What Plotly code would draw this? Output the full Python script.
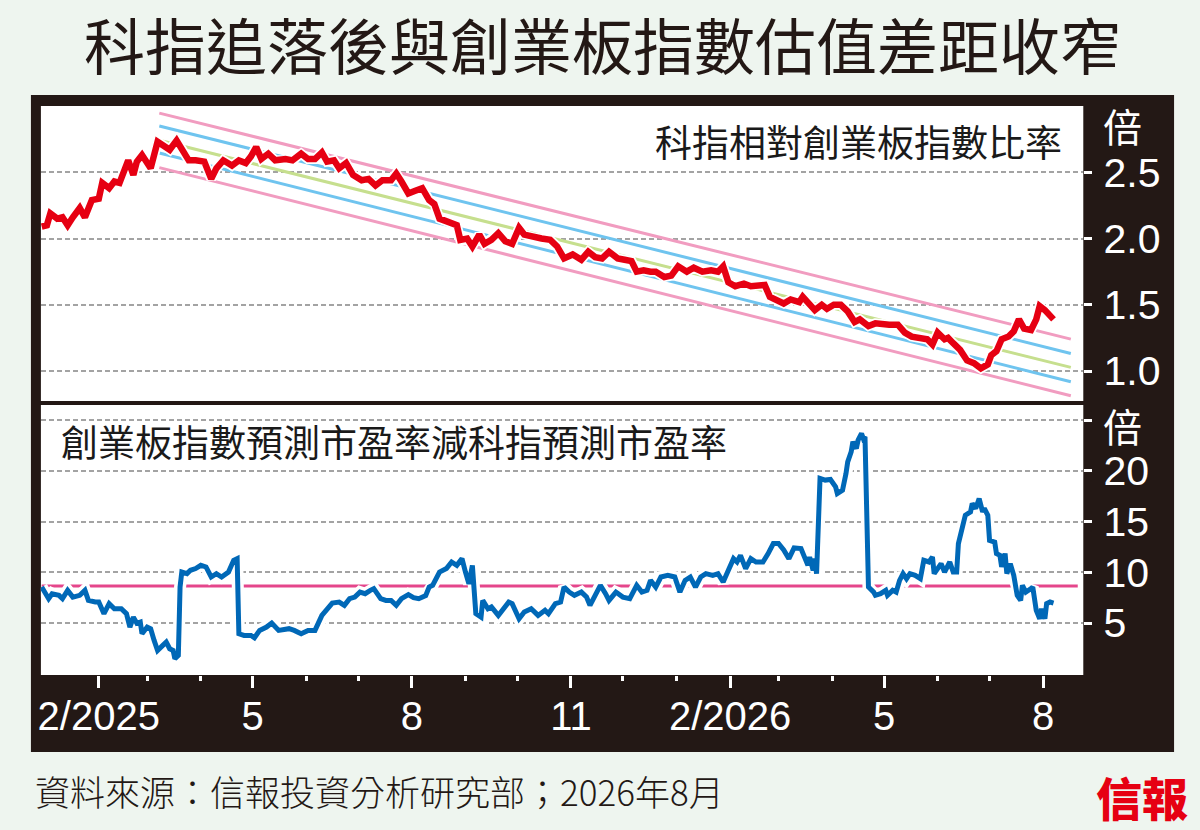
import plotly.graph_objects as go

# ---------------- data ----------------
ratio_dates = [
    "2024-12-30", "2025-01-02", "2025-01-04", "2025-01-08", "2025-01-11", "2025-01-14", "2025-01-17",
    "2025-01-21", "2025-01-24", "2025-01-28", "2025-02-01", "2025-02-03", "2025-02-07", "2025-02-10",
    "2025-02-13", "2025-02-15", "2025-02-18", "2025-02-21", "2025-02-23", "2025-02-26", "2025-03-03",
    "2025-03-07", "2025-03-10", "2025-03-14", "2025-03-18", "2025-03-22", "2025-03-25", "2025-03-29",
    "2025-04-03", "2025-04-07", "2025-04-10", "2025-04-14", "2025-04-19", "2025-04-23", "2025-04-27",
    "2025-04-30", "2025-05-03", "2025-05-06", "2025-05-10", "2025-05-14", "2025-05-20", "2025-05-24",
    "2025-05-29", "2025-06-02", "2025-06-06", "2025-06-10", "2025-06-13", "2025-06-17", "2025-06-20",
    "2025-06-24", "2025-06-28", "2025-07-03", "2025-07-07", "2025-07-11", "2025-07-15", "2025-07-20",
    "2025-07-23", "2025-07-26", "2025-07-30", "2025-08-03", "2025-08-07", "2025-08-11", "2025-08-14",
    "2025-08-17", "2025-08-22", "2025-08-27", "2025-08-29", "2025-09-02", "2025-09-05", "2025-09-09",
    "2025-09-12", "2025-09-16", "2025-09-20", "2025-09-24", "2025-09-28", "2025-10-02", "2025-10-05",
    "2025-10-10", "2025-10-15", "2025-10-20", "2025-10-24", "2025-10-28", "2025-11-02", "2025-11-07",
    "2025-11-11", "2025-11-15", "2025-11-19", "2025-11-23", "2025-11-28", "2025-12-02", "2025-12-06",
    "2025-12-09", "2025-12-13", "2025-12-17", "2025-12-20", "2025-12-25", "2025-12-29", "2026-01-02",
    "2026-01-07", "2026-01-11", "2026-01-16", "2026-01-21", "2026-01-25", "2026-01-28", "2026-01-31",
    "2026-02-04", "2026-02-09", "2026-02-13", "2026-02-18", "2026-02-21", "2026-02-24", "2026-02-28",
    "2026-03-04", "2026-03-08", "2026-03-13", "2026-03-15", "2026-03-18", "2026-03-22", "2026-03-26",
    "2026-03-29", "2026-04-02", "2026-04-06", "2026-04-10", "2026-04-14", "2026-04-17", "2026-04-22",
    "2026-04-26", "2026-04-30", "2026-05-04", "2026-05-09", "2026-05-13", "2026-05-17", "2026-05-21",
    "2026-05-26", "2026-05-29", "2026-06-01", "2026-06-05", "2026-06-07", "2026-06-10", "2026-06-14",
    "2026-06-18", "2026-06-22", "2026-06-26", "2026-06-30", "2026-07-02", "2026-07-05", "2026-07-08",
    "2026-07-12", "2026-07-15", "2026-07-18", "2026-07-21", "2026-07-25", "2026-07-28", "2026-07-30",
    "2026-08-02", "2026-08-05", "2026-08-07",
]
ratio_vals = [
    2.09, 2.10, 2.19, 2.15, 2.16, 2.10, 2.16,
    2.23, 2.16, 2.29, 2.30, 2.42, 2.38, 2.43,
    2.42, 2.50, 2.59, 2.48, 2.58, 2.63, 2.53,
    2.73, 2.70, 2.67, 2.74, 2.65, 2.59, 2.59,
    2.58, 2.45, 2.53, 2.59, 2.55, 2.59, 2.57,
    2.62, 2.69, 2.60, 2.64, 2.59, 2.60, 2.59,
    2.64, 2.60, 2.60, 2.65, 2.58, 2.59, 2.53,
    2.57, 2.48, 2.44, 2.45, 2.40, 2.44, 2.44,
    2.49, 2.43, 2.34, 2.36, 2.38, 2.29, 2.26,
    2.15, 2.13, 2.10, 1.99, 2.00, 1.94, 2.03,
    1.96, 1.99, 2.04, 1.98, 1.96, 2.08, 2.03,
    2.01, 2.00, 1.99, 1.94, 1.85, 1.88, 1.84,
    1.90, 1.86, 1.85, 1.90, 1.85, 1.84, 1.83,
    1.75, 1.76, 1.75, 1.75, 1.71, 1.72, 1.79,
    1.75, 1.78, 1.75, 1.76, 1.75, 1.79, 1.67,
    1.64, 1.66, 1.64, 1.64, 1.65, 1.56, 1.54,
    1.51, 1.54, 1.52, 1.56, 1.52, 1.46, 1.50,
    1.47, 1.50, 1.50, 1.45, 1.37, 1.39, 1.34,
    1.36, 1.35, 1.35, 1.35, 1.29, 1.26, 1.25,
    1.24, 1.20, 1.29, 1.24, 1.25, 1.21, 1.16,
    1.08, 1.06, 1.02, 1.05, 1.12, 1.15, 1.24,
    1.26, 1.30, 1.39, 1.32, 1.31, 1.39, 1.49,
    1.46, 1.41, 1.39,
]

# trend channel (start / end values of each line)
channel_dates = ["2025-03-08", "2026-08-17"]
channel_outer_hi = [2.946, 1.241]
channel_inner_hi = [2.849, 1.133]
channel_mid = [2.741, 1.028]
channel_inner_lo = [2.645, 0.919]
channel_outer_lo = [2.535, 0.814]

pe_dates = [
    "2024-12-30", "2025-01-03", "2025-01-05", "2025-01-09", "2025-01-11", "2025-01-14", "2025-01-17",
    "2025-01-21", "2025-01-24", "2025-01-26", "2025-01-30", "2025-02-01", "2025-02-04", "2025-02-07",
    "2025-02-10", "2025-02-14", "2025-02-17", "2025-02-19", "2025-02-21", "2025-02-23", "2025-02-25",
    "2025-02-26", "2025-03-01", "2025-03-03", "2025-03-05", "2025-03-07", "2025-03-10", "2025-03-12",
    "2025-03-14", "2025-03-16", "2025-03-17", "2025-03-19", "2025-03-20", "2025-03-21", "2025-03-24",
    "2025-03-26", "2025-03-29", "2025-04-01", "2025-04-04", "2025-04-07", "2025-04-10", "2025-04-13",
    "2025-04-17", "2025-04-20", "2025-04-22", "2025-04-23", "2025-04-26", "2025-04-30", "2025-05-02",
    "2025-05-05", "2025-05-09", "2025-05-12", "2025-05-16", "2025-05-22", "2025-05-25", "2025-05-29",
    "2025-06-02", "2025-06-06", "2025-06-10", "2025-06-13", "2025-06-16", "2025-06-20", "2025-06-23",
    "2025-06-26", "2025-06-29", "2025-07-02", "2025-07-05", "2025-07-08", "2025-07-10", "2025-07-14",
    "2025-07-17", "2025-07-20", "2025-07-23", "2025-07-26", "2025-07-30", "2025-08-02", "2025-08-05",
    "2025-08-09", "2025-08-11", "2025-08-13", "2025-08-17", "2025-08-21", "2025-08-24", "2025-08-27",
    "2025-08-30", "2025-09-01", "2025-09-03", "2025-09-05", "2025-09-07", "2025-09-10", "2025-09-11",
    "2025-09-14", "2025-09-16", "2025-09-20", "2025-09-23", "2025-09-26", "2025-09-28", "2025-10-02",
    "2025-10-05", "2025-10-09", "2025-10-13", "2025-10-17", "2025-10-19", "2025-10-23", "2025-10-26",
    "2025-10-28", "2025-10-31", "2025-11-03", "2025-11-07", "2025-11-10", "2025-11-12", "2025-11-14",
    "2025-11-18", "2025-11-21", "2025-11-23", "2025-11-27", "2025-12-01", "2025-12-05", "2025-12-09",
    "2025-12-12", "2025-12-15", "2025-12-17", "2025-12-20", "2025-12-23", "2025-12-27", "2025-12-31",
    "2026-01-03", "2026-01-06", "2026-01-09", "2026-01-12", "2026-01-15", "2026-01-18", "2026-01-22",
    "2026-01-25", "2026-01-28", "2026-01-31", "2026-02-03", "2026-02-05", "2026-02-07", "2026-02-10",
    "2026-02-13", "2026-02-16", "2026-02-20", "2026-02-23", "2026-02-26", "2026-03-01", "2026-03-04",
    "2026-03-07", "2026-03-10", "2026-03-14", "2026-03-16", "2026-03-18", "2026-03-19", "2026-03-21",
    "2026-03-22", "2026-03-23", "2026-03-25", "2026-03-28", "2026-03-31", "2026-04-03", "2026-04-04",
    "2026-04-07", "2026-04-09", "2026-04-10", "2026-04-12", "2026-04-13", "2026-04-15", "2026-04-16",
    "2026-04-18", "2026-04-19", "2026-04-20", "2026-04-22", "2026-04-25", "2026-04-26", "2026-04-29",
    "2026-05-02", "2026-05-03", "2026-05-06", "2026-05-08", "2026-05-10", "2026-05-12", "2026-05-14",
    "2026-05-16", "2026-05-19", "2026-05-22", "2026-05-24", "2026-05-27", "2026-05-29", "2026-05-30",
    "2026-06-03", "2026-06-05", "2026-06-08", "2026-06-10", "2026-06-12", "2026-06-13", "2026-06-15",
    "2026-06-17", "2026-06-20", "2026-06-21", "2026-06-23", "2026-06-25", "2026-06-27", "2026-06-28",
    "2026-06-30", "2026-07-01", "2026-07-04", "2026-07-05", "2026-07-07", "2026-07-08", "2026-07-10",
    "2026-07-11", "2026-07-13", "2026-07-15", "2026-07-17", "2026-07-19", "2026-07-20", "2026-07-22",
    "2026-07-25", "2026-07-26", "2026-07-28", "2026-07-30", "2026-07-31", "2026-08-02", "2026-08-03",
    "2026-08-05", "2026-08-07",
]
pe_vals = [
    8.55, 7.40, 7.89, 7.73, 7.40, 8.22, 7.56,
    7.73, 8.22, 7.23, 7.07, 7.07, 5.92, 6.91,
    6.41, 6.41, 5.92, 4.60, 5.58, 4.97, 5.09,
    3.94, 4.60, 4.44, 3.28, 2.29, 2.79, 3.11,
    2.46, 2.29, 1.47, 1.80, 8.55, 10.03, 9.87,
    10.20, 10.37, 10.69, 10.53, 9.54, 9.87, 9.54,
    10.03, 11.19, 11.35, 3.94, 3.77, 3.77, 3.54,
    4.27, 4.60, 5.00, 4.27, 4.44, 4.27, 3.94,
    4.27, 4.27, 5.75, 6.41, 6.97, 7.07, 6.74,
    7.40, 7.56, 8.05, 7.89, 8.22, 8.39, 7.40,
    7.23, 7.23, 6.74, 7.40, 7.80, 7.50, 7.40,
    7.70, 8.55, 8.72, 10.03, 10.37, 11.02, 10.69,
    11.35, 10.03, 8.88, 10.69, 5.92, 5.58, 7.23,
    6.41, 6.58, 5.75, 6.41, 7.07, 6.91, 5.42,
    6.08, 6.41, 5.75, 6.25, 5.92, 6.91, 7.07,
    8.55, 8.05, 7.73, 8.05, 7.56, 6.74, 7.40,
    8.72, 7.89, 7.23, 8.05, 7.56, 7.40, 8.72,
    8.05, 8.22, 9.21, 8.55, 9.54, 9.70, 9.54,
    8.05, 9.21, 9.54, 8.55, 9.54, 9.87, 9.70,
    9.87, 9.04, 10.20, 11.35, 11.02, 11.68, 10.37,
    11.35, 11.02, 11.02, 11.85, 12.84, 12.84, 12.20,
    11.35, 12.40, 12.34, 11.51, 10.69, 11.51, 10.20,
    11.35, 9.87, 19.26, 19.10, 19.16, 18.43, 17.78,
    18.10, 19.75, 20.90, 21.89, 22.88, 22.22, 23.04,
    23.70, 23.21, 23.37, 8.55, 8.05, 7.73, 7.89,
    8.22, 7.73, 8.22, 8.05, 9.21, 9.87, 9.37,
    9.87, 9.70, 9.37, 11.19, 11.02, 11.51, 9.87,
    10.86, 10.03, 11.02, 10.03, 10.03, 12.84, 14.32,
    15.63, 15.96, 16.79, 16.30, 17.28, 15.96, 16.30,
    15.63, 13.16, 12.99, 11.85, 11.68, 10.53, 11.85,
    9.87, 10.86, 9.70, 7.73, 7.23, 8.72, 8.05,
    8.39, 8.55, 6.25, 5.42, 6.41, 5.42, 6.91,
    7.07, 6.97,
]

avg_dates = ["2024-12-30", "2026-08-21"]
avg_vals = [8.65, 8.65]

x_tick_dates = ["2025-02-01", "2025-05-01", "2025-08-01", "2025-11-01",
                "2026-02-01", "2026-05-01", "2026-08-01"]
x_tick_text = ["2/2025", "5", "8", "11", "2/2026", "5", "8"]
x_minor_dates = ["2025-03-01", "2025-04-01", "2025-06-01", "2025-07-01", "2025-09-01",
                 "2025-10-01", "2025-12-01", "2026-01-01", "2026-03-01", "2026-04-01",
                 "2026-06-01", "2026-07-01"]
y1_ticks = [1.0, 1.5, 2.0, 2.5]
y1_text = ["1.0", "1.5", "2.0", "2.5"]
y2_ticks = [5, 10, 15, 20, 25]
y2_text = ["5", "10", "15", "20", ""]

title_text = "科指追落後與創業板指數估值差距收窄"
top_label = "科指相對創業板指數比率"
bottom_label = "創業板指數預測市盈率減科指預測市盈率"
unit_text = "倍"
source_text = "資料來源：信報投資分析研究部；2026年8月"
logo_text = "信報"

# ---------------- layout helpers ----------------
W, H = 1200, 830
def fx(p):
    return p / W
def fy(p):
    return 1 - p / H

DARK = "#231815"
BG = "#eef5ef"
CJK = "Noto Sans CJK TC"
NUM = "Liberation Sans, Arial"
X_RANGE = ["2024-12-29 13:00", "2026-08-24 05:00"]
PLOT_L, PLOT_R = 38, 1083

fig = go.Figure()

# channel lines
for vals, col in [(channel_outer_hi, "#f19cc0"), (channel_inner_hi, "#6fc4ef"),
                  (channel_mid, "#c6df8e"), (channel_inner_lo, "#6fc4ef"),
                  (channel_outer_lo, "#f19cc0")]:
    fig.add_trace(go.Scatter(x=channel_dates, y=vals, mode="lines",
                             line=dict(color=col, width=3), xaxis="x", yaxis="y",
                             hoverinfo="skip", showlegend=False))
# ratio line (white casing + red)
fig.add_trace(go.Scatter(x=ratio_dates, y=ratio_vals, mode="lines",
                         line=dict(color="white", width=10), xaxis="x", yaxis="y",
                         hoverinfo="skip", showlegend=False))
fig.add_trace(go.Scatter(x=ratio_dates, y=ratio_vals, mode="lines",
                         line=dict(color="#e60012", width=6.5), xaxis="x", yaxis="y",
                         showlegend=False))

# average line and PE spread
fig.add_trace(go.Scatter(x=avg_dates, y=avg_vals, mode="lines",
                         line=dict(color="#e5468b", width=3), xaxis="x2", yaxis="y2",
                         hoverinfo="skip", showlegend=False))
fig.add_trace(go.Scatter(x=pe_dates, y=pe_vals, mode="lines",
                         line=dict(color="white", width=12), xaxis="x2", yaxis="y2",
                         hoverinfo="skip", showlegend=False))
fig.add_trace(go.Scatter(x=pe_dates, y=pe_vals, mode="lines",
                         line=dict(color="#0068b7", width=5), xaxis="x2", yaxis="y2",
                         showlegend=False))

grid = dict(showgrid=True, gridcolor="#a3a3a3", gridwidth=1.5, griddash="5px,3px")

fig.update_layout(
    width=W, height=H,
    margin=dict(l=0, r=0, t=0, b=0),
    paper_bgcolor=BG, plot_bgcolor="rgba(0,0,0,0)",
    showlegend=False,
    xaxis=dict(domain=[fx(PLOT_L), fx(PLOT_R)], anchor="y", type="date", range=X_RANGE,
               showticklabels=False, ticks="", showgrid=False, zeroline=False, showline=False),
    xaxis2=dict(domain=[fx(PLOT_L), fx(PLOT_R)], anchor="y2", type="date", range=X_RANGE,
                tickmode="array", tickvals=x_tick_dates, ticktext=x_tick_text,
                ticks="outside", ticklen=12, tickwidth=3, tickcolor="white",
                tickfont=dict(family=NUM, size=40, color="white"),
                ticklabelstandoff=-6,
                minor=dict(ticks="outside", ticklen=5, tickwidth=2.5, tickcolor="white",
                           tickmode="array", tickvals=x_minor_dates, showgrid=False),
                showgrid=False, zeroline=False, showline=False),
    yaxis=dict(domain=[fy(401), fy(106)], anchor="x", side="right", range=[0.774, 3.0],
               tickmode="array", tickvals=y1_ticks, ticktext=y1_text,
               ticks="outside", ticklen=8, tickwidth=2.5, tickcolor="white",
               tickfont=dict(family=NUM, size=41, color="white"),
               ticklabelstandoff=3,
               zeroline=False, showline=False, **grid),
    yaxis2=dict(domain=[fy(675), fy(405)], anchor="x2", side="right", range=[-0.13, 26.51],
                tickmode="array", tickvals=y2_ticks, ticktext=y2_text,
                ticks="outside", ticklen=8, tickwidth=2.5, tickcolor="white",
                tickfont=dict(family=NUM, size=41, color="white"),
                ticklabelstandoff=3,
                zeroline=False, showline=False, **grid),
    shapes=[
        dict(type="rect", xref="paper", yref="paper", x0=fx(28), x1=fx(1174),
             y0=fy(752), y1=fy(95), fillcolor=DARK, line=dict(width=0), layer="below"),
        dict(type="rect", xref="paper", yref="paper", x0=fx(PLOT_L), x1=fx(PLOT_R),
             y0=fy(401), y1=fy(106), fillcolor="white", line=dict(width=0), layer="below"),
        dict(type="rect", xref="paper", yref="paper", x0=fx(PLOT_L), x1=fx(PLOT_R),
             y0=fy(675), y1=fy(405), fillcolor="white", line=dict(width=0), layer="below"),
    ],
    annotations=[
        dict(text=title_text, xref="paper", yref="paper", x=fx(601), y=fy(43),
             xanchor="center", yanchor="middle", showarrow=False,
             font=dict(family=CJK, size=61, color=DARK, weight=400)),
        dict(text=top_label, xref="paper", yref="paper", x=fx(1064), y=fy(141),
             xanchor="right", yanchor="middle", showarrow=False,
             font=dict(family=CJK, size=37, color="#1a1a1a")),
        dict(text=bottom_label, xref="paper", yref="paper", x=fx(56), y=fy(441),
             xanchor="left", yanchor="middle", showarrow=False,
             font=dict(family=CJK, size=37, color="#1a1a1a")),
        dict(text=unit_text, xref="paper", yref="paper", x=fx(1101), y=fy(125),
             xanchor="left", yanchor="middle", showarrow=False,
             font=dict(family=CJK, size=39, color="white")),
        dict(text=unit_text, xref="paper", yref="paper", x=fx(1101), y=fy(425),
             xanchor="left", yanchor="middle", showarrow=False,
             font=dict(family=CJK, size=39, color="white")),
        dict(text=source_text, xref="paper", yref="paper", x=fx(30), y=fy(790),
             xanchor="left", yanchor="middle", showarrow=False,
             font=dict(family=CJK, size=35, color=DARK, weight=300)),
        dict(text=logo_text, xref="paper", yref="paper", x=fx(1142), y=fy(796),
             xanchor="center", yanchor="middle", showarrow=False,
             font=dict(family=CJK, size=46, color="#e60012", weight=900)),
    ],
)

fig.write_html("out.html", config={"displayModeBar": False},
               post_script="document.body.style.margin='0';document.body.style.overflow='hidden';")
